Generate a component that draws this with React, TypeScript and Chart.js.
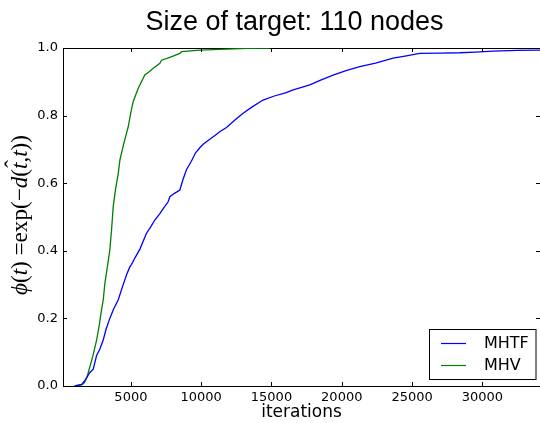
import React, { useEffect, useRef } from "react";
import { Chart, registerables } from "chart.js";

Chart.register(...registerables);

const titleText = "Size of target: 110 nodes";
const xAxisTitle = "iterations";
const seriesLabels = ["MHTF", "MHV"];

const xTickValues = [5000, 10000, 15000, 20000, 25000, 30000];
const yTickValues = [0, 0.2, 0.4, 0.6, 0.8, 1.0];
const xMin = 170;
const xMax = 34100;

const mhtfX = [1000, 1500, 1800, 2080, 2320, 2560, 2800, 3030, 3250, 3500, 3740, 4100, 4450, 4700, 4930, 5050, 5300, 5640, 5990, 6110, 6400, 6700, 7060, 7300, 7650, 7770, 8100, 8480, 8700, 8950, 9300, 9600, 9900, 10140, 10610, 11000, 11320, 11800, 12400, 12980, 13600, 14400, 15200, 16000, 16540, 17200, 17720, 18500, 19380, 20300, 21280, 22400, 23650, 24500, 25540, 27000, 28390, 29500, 30750, 32500, 34100];
const mhtfY = [0, 0.005, 0.02, 0.04, 0.05, 0.09, 0.11, 0.136, 0.17, 0.2, 0.225, 0.255, 0.3, 0.33, 0.353, 0.36, 0.38, 0.405, 0.44, 0.452, 0.47, 0.491, 0.51, 0.525, 0.545, 0.56, 0.57, 0.58, 0.61, 0.64, 0.665, 0.69, 0.705, 0.715, 0.73, 0.742, 0.752, 0.765, 0.787, 0.807, 0.825, 0.846, 0.858, 0.867, 0.876, 0.884, 0.891, 0.905, 0.92, 0.933, 0.945, 0.955, 0.97, 0.976, 0.984, 0.985, 0.986, 0.988, 0.991, 0.993, 0.994];

const mhvX = [1000, 1500, 1700, 1900, 2083, 2300, 2560, 2750, 2910, 3030, 3150, 3350, 3500, 3620, 3740, 3900, 4100, 4220, 4450, 4690, 4810, 5000, 5160, 5520, 5990, 6300, 6590, 7060, 7180, 7770, 8480, 8600, 9900, 11320, 13300, 14880];
const mhvY = [0, 0.003, 0.01, 0.03, 0.057, 0.09, 0.136, 0.18, 0.225, 0.254, 0.304, 0.36, 0.402, 0.46, 0.53, 0.58, 0.629, 0.669, 0.71, 0.748, 0.767, 0.81, 0.841, 0.881, 0.92, 0.93, 0.94, 0.955, 0.964, 0.972, 0.984, 0.989, 0.994, 0.996, 0.999, 1.0];

const colors = ["#0000ff", "#008000"];

const decorPlugin = {
  id: "decor",
  afterDraw(chart: any) {
    const ctx = chart.ctx as CanvasRenderingContext2D;
    const { left, right, top, bottom } = chart.chartArea;
    const xs = chart.scales.x;
    const ys = chart.scales.y;
    ctx.save();
    // inward ticks
    ctx.strokeStyle = "#000";
    ctx.lineWidth = 1;
    ctx.beginPath();
    for (const v of xTickValues) {
      const px = Math.round(xs.getPixelForValue(v)) + 0.5;
      ctx.moveTo(px, bottom);
      ctx.lineTo(px, bottom - 4);
      ctx.moveTo(px, top);
      ctx.lineTo(px, top + 4);
    }
    for (const v of yTickValues) {
      const py = Math.round(ys.getPixelForValue(v)) + 0.5;
      ctx.moveTo(left, py);
      ctx.lineTo(left + 4, py);
      ctx.moveTo(right, py);
      ctx.lineTo(right - 4, py);
    }
    ctx.stroke();

    // title
    ctx.fillStyle = "#000";
    ctx.font = '27px "Liberation Sans", Arial, sans-serif';
    ctx.textAlign = "center";
    ctx.textBaseline = "alphabetic";
    ctx.fillText(titleText, 294.5, 29.5);

    // y label (math text)
    const segs: [string, boolean][] = [
      ["\u03D5", true], ["(", false], ["t", true], [")", false], [" =", false],
      ["exp", false], ["(", false], ["\u2212", false], ["d", true], ["(", false],
      ["t", true], [",", false], ["t", true], ["))", false],
    ];
    const hatIndex = 10;
    const fam = '"Liberation Serif", "DejaVu Serif", serif';
    const measure = (fs: number) => {
      let w = 0;
      for (const [s, it] of segs) {
        ctx.font = `${it ? "italic " : ""}${fs}px ${fam}`;
        w += ctx.measureText(s).width;
      }
      return w;
    };
    const fs = 18 * 160 / measure(18);
    const total = measure(fs);
    ctx.translate(27, 215);
    ctx.rotate(-Math.PI / 2);
    ctx.textAlign = "left";
    let cx = -total / 2;
    segs.forEach(([s, it], i) => {
      ctx.font = `${it ? "italic " : ""}${fs}px ${fam}`;
      const w = ctx.measureText(s).width;
      ctx.fillText(s, cx, 0);
      if (i === hatIndex) {
        ctx.font = `${fs}px ${fam}`;
        ctx.textAlign = "center";
        ctx.fillText("\u02C6", cx + w / 2 + fs * 0.08, -fs * 0.28);
        ctx.textAlign = "left";
      }
      cx += w;
    });
    ctx.restore();

    // legend
    ctx.save();
    const bx = 429.5, by = 329.5, bw = 106.5, bh = 50;
    ctx.fillStyle = "#fff";
    ctx.fillRect(bx, by, bw, bh);
    ctx.strokeStyle = "#000";
    ctx.lineWidth = 1;
    ctx.strokeRect(bx, by, bw, bh);
    const rowsY = [343, 365];
    ctx.font = '16px "DejaVu Sans", sans-serif';
    ctx.textBaseline = "middle";
    ctx.textAlign = "left";
    seriesLabels.forEach((lab, i) => {
      ctx.strokeStyle = colors[i];
      ctx.lineWidth = 1.2;
      ctx.beginPath();
      ctx.moveTo(441, rowsY[i] + 0.5);
      ctx.lineTo(466, rowsY[i] + 0.5);
      ctx.stroke();
      ctx.fillStyle = "#000";
      ctx.fillText(lab, 484, rowsY[i] + 1);
    });
    ctx.restore();
  },
};

export default function App() {
  const ref = useRef<HTMLCanvasElement>(null);
  useEffect(() => {
    const canvas = ref.current!;
    const tickFont = { family: "DejaVu Sans", size: 13 };
    const chart = new Chart(canvas, {
      type: "line",
      data: {
        datasets: [
          {
            label: seriesLabels[0],
            data: mhtfX.map((x, i) => ({ x, y: mhtfY[i] })),
            borderColor: colors[0],
            borderWidth: 1.3,
            pointRadius: 0,
            tension: 0,
            fill: false,
          },
          {
            label: seriesLabels[1],
            data: mhvX.map((x, i) => ({ x, y: mhvY[i] })),
            borderColor: colors[1],
            borderWidth: 1.3,
            pointRadius: 0,
            tension: 0,
            fill: false,
          },
        ],
      },
      options: {
        responsive: false,
        animation: false,
        layout: { padding: 0 },
        plugins: {
          legend: { display: false },
          title: { display: false },
          tooltip: { enabled: false },
        },
        scales: {
          x: {
            type: "linear",
            position: "bottom",
            min: xMin,
            max: xMax,
            grid: { display: true, drawOnChartArea: false, drawTicks: false },
            border: { display: true, color: "#000", width: 1 },
            ticks: {
              color: "#000",
              font: tickFont,
              padding: 4,
              maxRotation: 0,
              callback: (v: any) => String(v),
            },
            title: {
              display: true,
              text: xAxisTitle,
              color: "#000",
              font: { family: "DejaVu Sans", size: 17 },
              padding: { top: 0, bottom: 0 },
            },
            afterBuildTicks: (s: any) => {
              s.ticks = xTickValues.map((v) => ({ value: v }));
            },
            afterFit: (s: any) => {
              s.height = 37;
            },
          },
          xTop: {
            type: "linear",
            position: "top",
            min: xMin,
            max: xMax,
            grid: { display: true, drawOnChartArea: false, drawTicks: false },
            border: { display: true, color: "#000", width: 1 },
            ticks: { display: false },
            afterFit: (s: any) => {
              s.height = 48;
            },
          },
          y: {
            type: "linear",
            position: "left",
            min: 0,
            max: 1,
            grid: { display: true, drawOnChartArea: false, drawTicks: false },
            border: { display: true, color: "#000", width: 1 },
            ticks: {
              color: "#000",
              font: tickFont,
              padding: 5,
              callback: (v: any) => Number(v).toFixed(1),
            },
            afterBuildTicks: (s: any) => {
              s.ticks = yTickValues.map((v) => ({ value: v }));
            },
            afterFit: (s: any) => {
              s.width = 63;
            },
          },
        },
      },
      plugins: [decorPlugin],
    } as any);
    return () => chart.destroy();
  }, []);
  return (
    <div style={{ position: "absolute", left: 0, top: 0, width: 540, height: 423, background: "#fff" }}>
      <canvas ref={ref} width={540} height={423} style={{ display: "block" }} />
    </div>
  );
}
